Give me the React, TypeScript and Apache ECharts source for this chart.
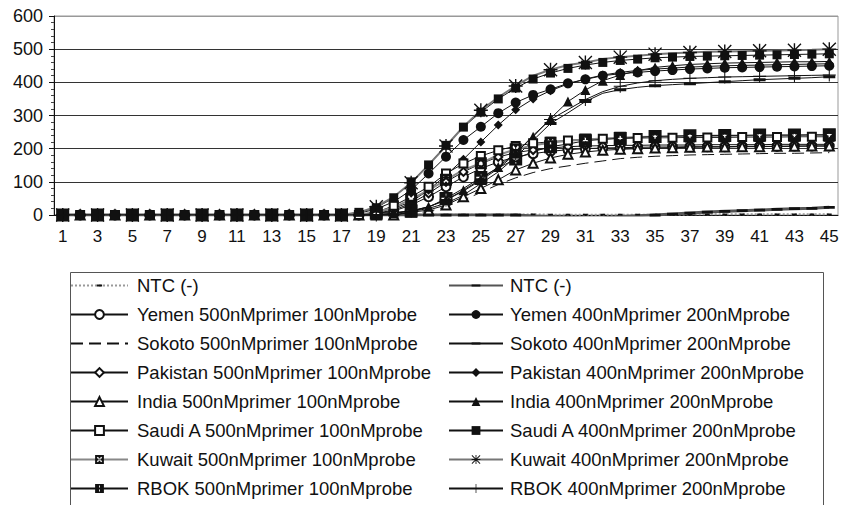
import React, { useEffect, useRef } from 'react';
import * as echarts from 'echarts';

const cycles = ['1','2','3','4','5','6','7','8','9','10','11','12','13','14','15','16','17','18','19','20','21','22','23','24','25','26','27','28','29','30','31','32','33','34','35','36','37','38','39','40','41','42','43','44','45'];
const yTicks = [0, 100, 200, 300, 400, 500, 600];

const ntc500 = [0,0,0,0,0,0,0,0,0,0,0,0,0,0,0, 0,0,0,1,1,1,1,1,1,1,1,1,2,1,1, 1,1,1,1,1,1,2,2,2,2,2,2,2,2,2];
const ntc400 = [0,0,0,0,0,0,0,0,0,0,0,0,0,0,0, 0,0,0,0,0,0,0,0,0,0,0,0,-3,-5,-7, -8,-8,-5,-2,0,3,6,9,11,13,15,17,19,20,23];
const yemen500 = [0,0,0,0,0,0,0,0,0,0,0,0,0,0,0, 0,0,0,5,12,30,55,85,115,140,160,175,185,192,197, 200,202,203,204,205,205,206,206,206,207,207,207,208,208,208];
const yemen400 = [0,0,0,0,0,0,0,0,0,0,0,0,0,0,0, 0,0,5,18,40,75,125,176,226,266,307,339,362,379,397, 409,420,426,430,434,437,440,442,444,445,446,447,448,449,450];
const sokoto500 = [0,0,0,0,0,0,0,0,0,0,0,0,0,0,0, 0,0,0,0,3,6,10,25,45,68,92,112,128,140,148, 156,163,170,174,177,179,181,182,183,184,185,186,186,187,188];
const sokoto400 = [0,0,0,0,0,0,0,0,0,0,0,0,0,0,0, 0,0,0,0,0,10,20,35,60,95,130,175,225,276,308, 342,367,378,385,390,393,396,399,402,405,408,410,412,414,417];
const pakistan500 = [0,0,0,0,0,0,0,0,0,0,0,0,0,0,0, 0,0,0,5,15,35,65,100,130,155,175,188,196,202,206, 208,209,210,210,211,211,211,212,212,212,212,213,213,213,213];
const pakistan400 = [0,0,0,0,0,0,0,0,0,0,0,0,0,0,0, 0,0,0,8,20,40,75,120,168,220,271,317,350,375,395, 410,422,430,436,440,443,446,448,450,451,452,453,454,455,456];
const india500 = [0,0,0,0,0,0,0,0,0,0,0,0,0,0,0, 0,0,0,0,0,8,15,30,55,80,106,136,156,172,183, 190,195,198,200,202,203,204,205,205,206,206,207,207,208,208];
const india400 = [0,0,0,0,0,0,0,0,0,0,0,0,0,0,0, 0,0,0,0,5,12,25,45,75,108,145,188,236,291,342, 377,405,422,435,445,450,454,456,458,459,460,461,462,462,463];
const saudi500 = [0,0,0,0,0,0,0,0,0,0,0,0,0,0,0, 0,0,0,8,28,55,85,125,155,178,195,208,216,221,225, 228,230,231,232,233,233,234,234,234,235,235,235,236,236,236];
const saudi400 = [0,0,0,0,0,0,0,0,0,0,0,0,0,0,0, 0,0,8,22,52,100,151,210,265,310,350,383,410,428,442, 452,460,466,470,474,476,478,479,480,481,482,483,484,485,486];
const kuwait500 = [0,0,0,0,0,0,0,0,0,0,0,0,0,0,0, 0,0,0,10,22,48,75,106,136,156,181,198,210,218,224, 228,231,233,235,236,237,238,238,239,239,239,240,240,240,240];
const kuwait400 = [0,0,0,0,0,0,0,0,0,0,0,0,0,0,0, 0,0,8,25,55,97,151,208,266,316,355,389,420,438,452, 460,470,476,480,485,488,490,492,493,494,495,496,497,498,500];
const rbok500 = [0,0,0,0,0,0,0,0,0,0,0,0,0,0,0, 0,0,0,5,8,12,23,50,80,113,142,169,191,206,214, 224,228,231,234,237,238,239,240,240,240,241,241,241,242,242];
const rbok400 = [0,0,0,0,0,0,0,0,0,0,0,0,0,0,0, 0,0,0,0,5,12,25,45,72,105,140,185,240,288,318, 348,372,388,398,405,409,412,414,416,417,418,419,420,421,422];

const leftNames = ['NTC (-)', 'Yemen 500nMprimer 100nMprobe', 'Sokoto 500nMprimer 100nMprobe', 'Pakistan 500nMprimer 100nMprobe', 'India 500nMprimer 100nMprobe', 'Saudi A 500nMprimer 100nMprobe', 'Kuwait 500nMprimer 100nMprobe', 'RBOK 500nMprimer 100nMprobe'];
const rightNames = ['NTC (-) ', 'Yemen 400nMprimer 200nMprobe', 'Sokoto 400nMprimer 200nMprobe', 'Pakistan 400nMprimer 200nMprobe', 'India 400nMprimer 200nMprobe', 'Saudi A 400nMprimer 200nMprobe', 'Kuwait 400nMprimer 200nMprobe', 'RBOK 400nMprimer 200nMprobe'];

// square-bounded paths (tiny zero-area anchors keep the bounding box square)
const ANCHORS = ' M0 0L0.01 0L0 0.01Z M20 20L19.99 20L20 19.99Z';
const SYM_ASTERISK = 'path://M9 0H11V20H9Z M0 9H20V11H0Z M1.4 0L20 18.6L18.6 20L0 1.4Z M18.6 0L20 1.4L1.4 20L0 18.6Z';
const SYM_PLUS = 'path://M9.2 0H10.8V20H9.2Z M0 9.2H20V10.8H0Z';
const SYM_BOX_PLUS = 'path://M0 0H20V20H0Z M9 3V9H3V11H9V17H11V11H17V9H11V3Z';
const SYM_BOX_X = 'path://M0 0H20V20H0Z M10 7.6L6.2 3.8L3.8 6.2L7.6 10L3.8 13.8L6.2 16.2L10 12.4L13.8 16.2L16.2 13.8L12.4 10L16.2 6.2L13.8 3.8Z';
const SYM_DASH_THICK = 'path://M0 7.5H20V12.5H0Z' + ANCHORS;
const SYM_DASH_SMALL = 'path://M4 8H16V12H4Z' + ANCHORS;
const SYM_NONE = 'path://M10 10L10.01 10L10 10.01Z' + ANCHORS;

const FONT = 'Liberation Sans, Arial, sans-serif';

function line(name: string, data: number[], o: any) {
  const sym = o.symbol ?? SYM_NONE;
  const empty = typeof sym === 'string' && sym.indexOf('empty') === 0;
  return {
    type: 'line',
    name,
    data,
    symbol: sym,
    symbolSize: o.size ?? 8,
    showSymbol: o.show ?? true,
    lineStyle: { color: o.lineColor ?? '#111', width: o.width ?? 1, type: o.type ?? 'solid' },
    itemStyle: { color: o.color ?? '#111', borderColor: o.color ?? '#111', borderWidth: empty ? 1 : 0 },
    emphasis: { disabled: true },
    z: o.z ?? 2,
  };
}

export default function App() {
  const ref = useRef<HTMLDivElement>(null);
  useEffect(() => {
    const chart = echarts.init(ref.current!, null, { renderer: 'svg' });
    const legendBase = {
      orient: 'vertical',
      top: 276,
      padding: 0,
      itemHeight: 11,
      itemGap: 10,
      selectedMode: false,
      formatter: (n: string) => n.trim(),
      textStyle: { fontFamily: FONT, fontSize: 18.5, lineHeight: 18, color: '#111' },
    };
    const option = {
      animation: false,
      backgroundColor: '#fff',
      grid: { left: 54, right: 6, top: 16, bottom: 290, show: true, borderColor: '#999', borderWidth: 1 },
      xAxis: {
        type: 'category',
        data: cycles,
        boundaryGap: true,
        axisLine: { lineStyle: { color: '#111', width: 1 } },
        axisTick: { show: false },
        axisLabel: { interval: 1, fontFamily: FONT, fontSize: 17, color: '#111', margin: 13 },
        splitLine: { show: false },
      },
      yAxis: {
        type: 'value',
        min: yTicks[0],
        max: yTicks[yTicks.length - 1],
        interval: 100,
        axisLine: { show: true, lineStyle: { color: '#111', width: 1 } },
        axisTick: { show: true, inside: false, length: 5, lineStyle: { color: '#111' } },
        minorTick: { show: true, splitNumber: 5, length: 3, lineStyle: { color: '#444' } },
        axisLabel: { fontFamily: FONT, fontSize: 18, color: '#111', margin: 11 },
        splitLine: { show: true, lineStyle: { color: ['#333', '#333', '#333', '#333', '#333', '#333', '#999'], width: 1 } },
      },
      legend: [
        { ...legendBase, left: 70, itemWidth: 57, data: leftNames, textStyle: { ...legendBase.textStyle, padding: [0, 0, 0, 4] } },
        { ...legendBase, left: 448, itemWidth: 54, data: rightNames, textStyle: { ...legendBase.textStyle, padding: [0, 0, 0, 2] } },
      ],
      graphic: [
        { type: 'rect', left: 68, top: 270, shape: { width: 753, height: 300 }, style: { fill: 'none', stroke: '#555', lineWidth: 1 }, silent: true },
      ],
      series: [
        line(leftNames[0], ntc500, { symbol: SYM_DASH_SMALL, size: 8, lineColor: '#999', width: 2, type: [2, 2] }),
        line(rightNames[0], ntc400, { symbol: SYM_DASH_THICK, size: 11, lineColor: '#555', width: 3 }),
        line(leftNames[1], yemen500, { symbol: 'emptyCircle', size: 9 }),
        line(rightNames[1], yemen400, { symbol: 'circle', size: 10 }),
        line(leftNames[2], sokoto500, { type: [12, 6], show: false }),
        line(rightNames[2], sokoto400, { symbol: SYM_DASH_THICK, size: 12 }),
        line(leftNames[3], pakistan500, { symbol: 'emptyDiamond', size: 8 }),
        line(rightNames[3], pakistan400, { symbol: 'diamond', size: 9 }),
        line(leftNames[4], india500, { symbol: 'emptyTriangle', size: 9 }),
        line(rightNames[4], india400, { symbol: 'triangle', size: 10 }),
        line(leftNames[5], saudi500, { symbol: 'emptyRect', size: 8 }),
        line(rightNames[5], saudi400, { symbol: 'rect', size: 9 }),
        line(leftNames[6], kuwait500, { symbol: SYM_BOX_X, size: 12, lineColor: '#888', width: 2 }),
        line(rightNames[6], kuwait400, { symbol: SYM_ASTERISK, size: 14, lineColor: '#777', width: 2 }),
        line(leftNames[7], rbok500, { symbol: SYM_BOX_PLUS, size: 13 }),
        line(rightNames[7], rbok400, { symbol: SYM_PLUS, size: 13 }),
      ],
    };
    chart.setOption(option as any);
    return () => chart.dispose();
  }, []);
  return <div ref={ref} style={{ position: 'fixed', left: 0, top: 0, width: 844, height: 505 }} />;
}
